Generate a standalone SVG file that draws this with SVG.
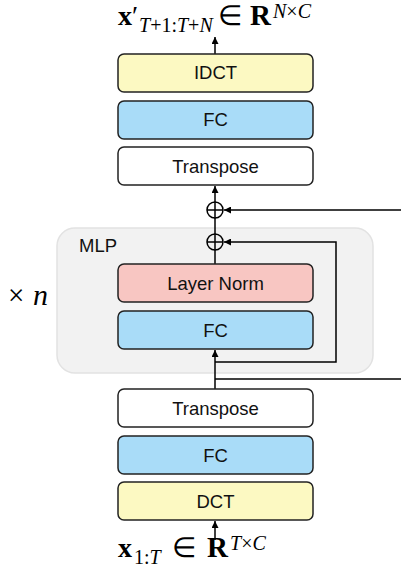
<svg xmlns="http://www.w3.org/2000/svg" width="401" height="578" viewBox="0 0 401 578">
<defs>
<marker id="ah" viewBox="0 0 10 10" refX="10" refY="5" markerWidth="7" markerHeight="7" markerUnits="userSpaceOnUse" orient="auto"><path d="M0,0 L10,5 L0,10 Z" fill="#000"/></marker>
<style>
.box{stroke:#222;stroke-width:1.5}
.yel{fill:#fcf9c2}.blue{fill:#a9dcf8}.pink{fill:#f8c6c2}.white{fill:#fff}
.lbl{font-family:"Liberation Sans",Arial,sans-serif;font-size:18.5px;fill:#111;text-anchor:middle}
.ln{stroke:#000;stroke-width:1.5;fill:none}
.math{font-family:"Liberation Serif","Times New Roman",serif;fill:#000}
.sub{font-size:20px}
.sup{font-size:20px}
.it{font-style:italic}
.bf{font-weight:bold}
</style>
</defs>
<rect id="mlp-bg" x="57" y="228" width="316" height="145" rx="18" fill="#f2f2f2" stroke="#e2e2e2" stroke-width="1.5"/>
<text x="79" y="252" font-family="Liberation Sans,Arial,sans-serif" font-size="18.5" fill="#111">MLP</text>
<g id="connectors">
<line class="ln" x1="215" y1="540" x2="215" y2="521" marker-end="url(#ah)"/>
<line class="ln" x1="215" y1="389" x2="215" y2="350" marker-end="url(#ah)"/>
<line class="ln" x1="215" y1="379" x2="401" y2="379"/>
<polyline class="ln" points="215,362 336,362 336,242 224,242" marker-end="url(#ah)"/>
<line class="ln" x1="215" y1="264" x2="215" y2="250"/>
<line class="ln" x1="215" y1="234" x2="215" y2="218"/>
<line class="ln" x1="401" y1="210" x2="224" y2="210" marker-end="url(#ah)"/>
<line class="ln" x1="215" y1="202" x2="215" y2="186" marker-end="url(#ah)"/>
<line class="ln" x1="215" y1="54" x2="215" y2="37" marker-end="url(#ah)"/>
</g>
<g id="add1"><circle cx="215" cy="210" r="8" class="ln"/><path class="ln" d="M207,210 H223 M215,202 V218"/></g>
<g id="add2"><circle cx="215" cy="242" r="8" class="ln"/><path class="ln" d="M207,242 H223 M215,234 V250"/></g>
<g id="idct"><rect class="box yel" x="118" y="54" width="195" height="38" rx="6"/><text class="lbl" x="215.5" y="79">IDCT</text></g>
<g id="fc-top"><rect class="box blue" x="118" y="101" width="195" height="38" rx="6"/><text class="lbl" x="215.5" y="126">FC</text></g>
<g id="transpose-top"><rect class="box white" x="118" y="147" width="195" height="38" rx="6"/><text class="lbl" x="215.5" y="172.5">Transpose</text></g>
<g id="layernorm"><rect class="box pink" x="118" y="264" width="195" height="38" rx="6"/><text class="lbl" x="215.5" y="289.5">Layer Norm</text></g>
<g id="fc-mlp"><rect class="box blue" x="118" y="311" width="195" height="38" rx="6"/><text class="lbl" x="215.5" y="336.5">FC</text></g>
<g id="transpose-bot"><rect class="box white" x="118" y="389" width="195" height="38" rx="6"/><text class="lbl" x="215.5" y="414.5">Transpose</text></g>
<g id="fc-bot"><rect class="box blue" x="118" y="436" width="195" height="38" rx="6"/><text class="lbl" x="215.5" y="461.5">FC</text></g>
<g id="dct"><rect class="box yel" x="118" y="482" width="195" height="38" rx="6"/><text class="lbl" x="215.5" y="507.5">DCT</text></g>
<g id="times-n"><text class="math" y="305" font-size="29"><tspan x="8">×</tspan><tspan x="33" class="it" font-size="30">n</tspan></text></g>
<g id="output-label"><text class="math" y="25" font-size="28"><tspan x="118" class="bf">x</tspan><tspan>′</tspan><tspan x="139" dy="7" class="sub it">T</tspan><tspan class="sub">+1:</tspan><tspan class="sub it">T</tspan><tspan class="sub">+</tspan><tspan class="sub it">N</tspan><tspan x="218" dy="-7">∈</tspan><tspan x="250" class="bf" font-size="29">R</tspan><tspan x="273" dy="-7.5" class="sup it">N</tspan><tspan class="sup">×</tspan><tspan class="sup it">C</tspan></text></g>
<g id="input-label"><text class="math" y="557" font-size="28"><tspan x="118" class="bf">x</tspan><tspan x="134" dy="7" class="sub">1:</tspan><tspan class="sub it">T</tspan><tspan x="172" dy="-7">∈</tspan><tspan x="207" class="bf" font-size="29">R</tspan><tspan x="230" dy="-7.5" class="sup it" font-size="21">T</tspan><tspan class="sup" font-size="21">×</tspan><tspan class="sup it" font-size="21">C</tspan></text></g>
</svg>
